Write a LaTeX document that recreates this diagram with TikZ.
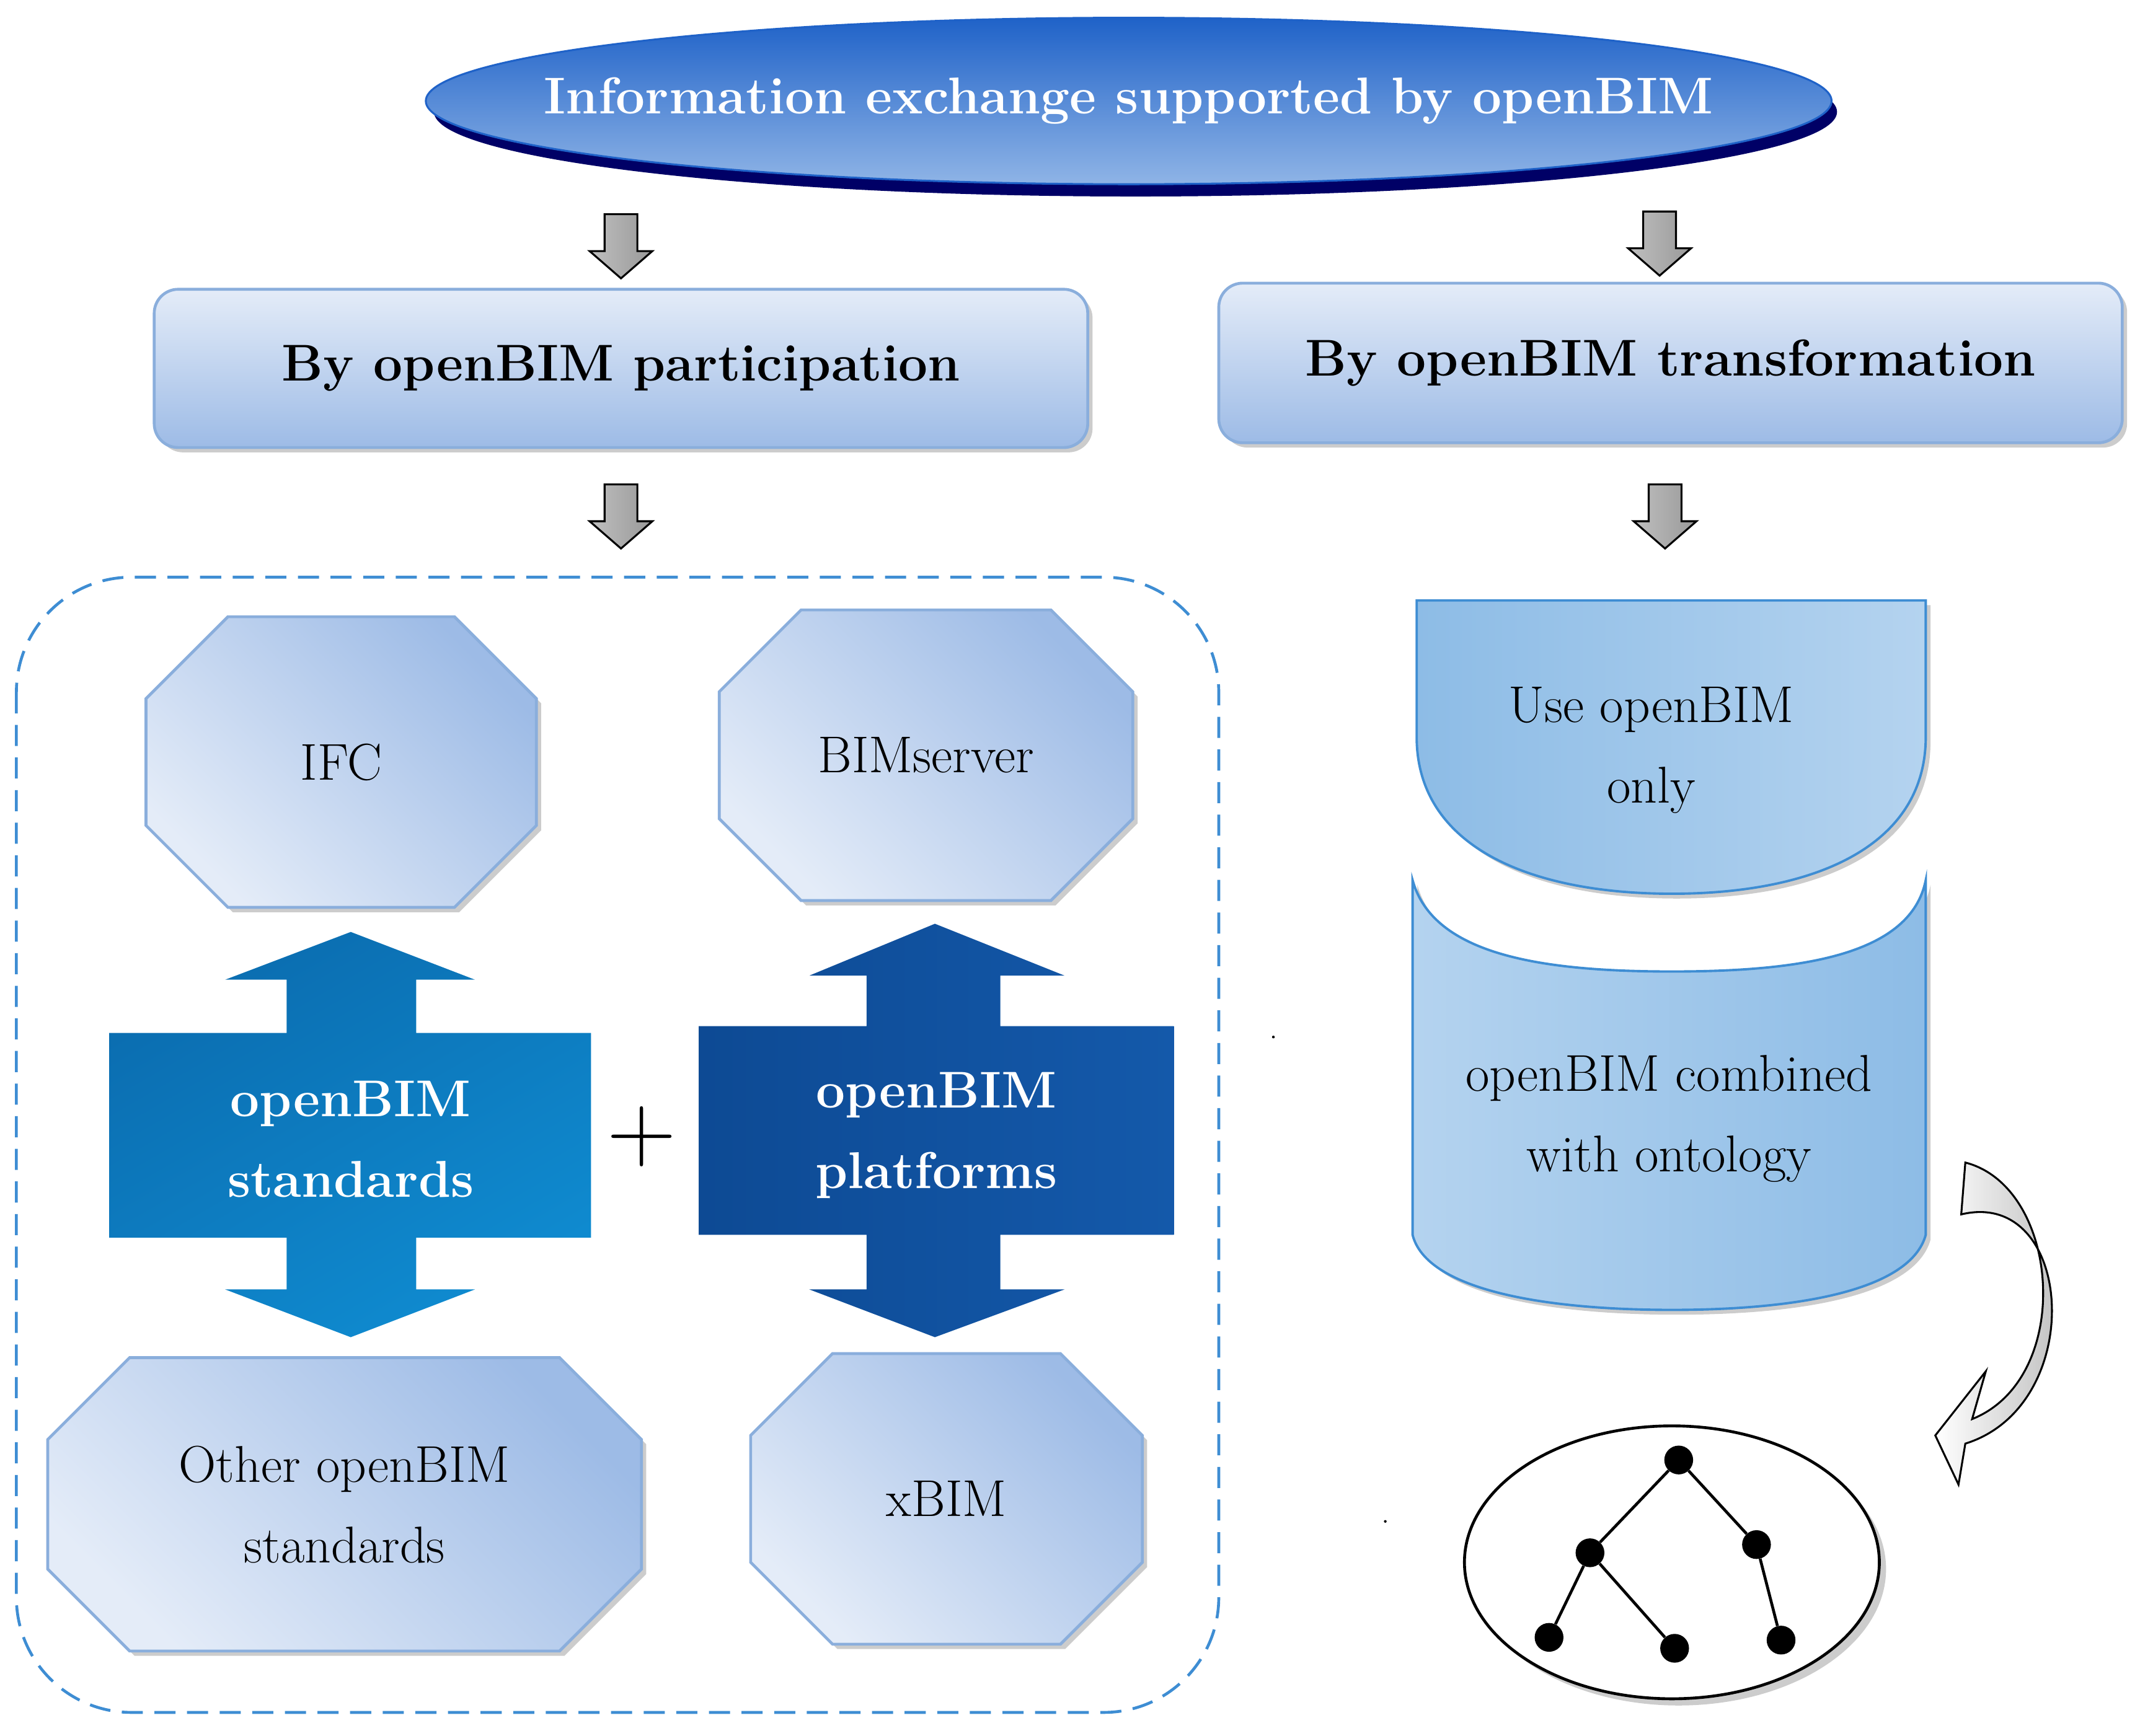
\documentclass[tikz,border=0pt]{standalone}
\usepackage{fontspec}
\usetikzlibrary{shapes.geometric,shadows,arrows.meta}
\definecolor{edge}{HTML}{8AAEDC}
\definecolor{lt}{HTML}{E4ECF8}
\definecolor{dk}{HTML}{9DBBE6}
\definecolor{sky}{HTML}{8DBCE6}
\definecolor{skyl}{HTML}{B4D3EF}
\definecolor{cyb}{HTML}{0F8BD0}
\definecolor{cybd}{HTML}{0B6DB0}
\definecolor{nav}{HTML}{1459AA}
\definecolor{navd}{HTML}{0D4A94}
\definecolor{etop}{HTML}{1F62C8}
\definecolor{ebot}{HTML}{8FB4E6}
\begin{document}
\begin{tikzpicture}[x=0.5mm,y=-0.5mm,
  shad/.style={drop shadow={shadow xshift=5pt,shadow yshift=-5pt,fill=black!40}},
  lbox/.style={draw=edge,line width=3pt,rounded corners=25pt,top color=lt,bottom color=dk,shad},
  oct/.style={draw=edge,line width=3pt,top color=dk,bottom color=lt,shading angle=-45,shad},
  garr/.style={draw=black,line width=2pt,left color=gray!50,right color=gray!80},
  big/.style={font=\bfseries\fontsize{54}{84}\selectfont,text=white,align=center},
  txt/.style={font=\fontsize{54}{84}\selectfont,align=center},
  tn/.style={circle,fill=black,inner sep=0pt,minimum size=30pt}]
\useasboundingbox (0,0) rectangle (1568,1272);
% top ellipse
\fill[blue!40!black] (832,82) ellipse (514 and 62);
\node[ellipse,minimum width=1030*0.5mm,minimum height=122*0.5mm,draw=etop,line width=2pt,top color=etop,bottom color=ebot] (top) at (827,74) {};
\node[big,font=\bfseries\fontsize{54}{70}\selectfont] at (827,74) {Information exchange supported by openBIM};
% gray arrows
\foreach \x/\y in {455/157,1216/155,455/355,1220/355}{
  \draw[garr] (\x-12,\y) -- (\x+12,\y) -- (\x+12,\y+27) -- (\x+23,\y+27) -- (\x,\y+47) -- (\x-23,\y+27) -- (\x-12,\y+27) -- cycle;}
% level 2 boxes
\node[lbox,minimum width=684*0.5mm,minimum height=116*0.5mm,font=\bfseries\fontsize{54}{70}\selectfont] (p) at (455,270) {By openBIM participation};
\node[lbox,minimum width=662*0.5mm,minimum height=117*0.5mm,font=\bfseries\fontsize{54}{70}\selectfont] (t) at (1224,266) {By openBIM transformation};
% dashed frame
\draw[draw=cyan!60!blue!80,line width=3pt,dash pattern=on 22pt off 12pt,rounded corners=120pt] (12,423) rectangle (893,1255);
% octagons
\foreach \n/\a/\b/\c/\d/\t in {ifc/107/452/393/665/IFC,bs/527/447/830/660/BIMserver,oth/35/995/470/1210/{Other openBIM\\standards},xb/550/992/837/1205/xBIM}{
  \path[oct] (\a+60,\b) -- (\c-60,\b) -- (\c,\b+60) -- (\c,\d-60) -- (\c-60,\d) -- (\a+60,\d) -- (\a,\d-60) -- (\a,\b+60) -- cycle;
  \node[txt] (\n) at ({(\a+\c)/2},{(\b+\d)/2}) {\t};}
% big double arrows
\shade[left color=cybd,right color=cyb,shading angle=30] (257,683) -- (348,718) -- (305,718) -- (305,757) -- (433,757) -- (433,907) -- (305,907) -- (305,945) -- (348,945) -- (257,980) -- (165,945) -- (210,945) -- (210,907) -- (80,907) -- (80,757) -- (210,757) -- (210,718) -- (165,718) -- cycle;
\node[big] (std) at (257,835) {openBIM\\standards};
\shade[left color=navd,right color=nav] (685,677) -- (780,715) -- (733,715) -- (733,752) -- (860,752) -- (860,905) -- (733,905) -- (733,945) -- (780,945) -- (685,980) -- (593,945) -- (635,945) -- (635,905) -- (512,905) -- (512,752) -- (635,752) -- (635,715) -- (593,715) -- cycle;
\node[big] (plat) at (686,832) {openBIM\\platforms};
\node[font=\fontsize{100}{100}\selectfont] (plus) at (470,833) {+};
% right shapes
\path[draw=cyan!60!blue!80,line width=2.5pt,left color=sky,right color=skyl,shad] (1038,440) -- (1411,440) -- (1411,540) .. controls (1411,620) and (1330,655) .. (1225,655) .. controls (1120,655) and (1038,620) .. (1038,540) -- cycle;
\node[txt] (use) at (1210,550) {Use openBIM\\only};
\path[draw=cyan!60!blue!80,line width=2.5pt,left color=skyl,right color=sky,shad] (1035,645) .. controls (1050,700) and (1130,712) .. (1225,712) .. controls (1320,712) and (1400,700) .. (1411,645) -- (1411,905) .. controls (1400,945) and (1320,960) .. (1225,960) .. controls (1130,960) and (1045,945) .. (1035,905) -- cycle;
\node[txt] (comb) at (1223,820) {openBIM combined\\with ontology};
% curved arrow
\path[draw=black,line width=2pt,left color=white,right color=gray!60] (1440,852) .. controls (1510,870) and (1520,1010) .. (1445,1040) -- (1455,1005) -- (1418,1052) -- (1435,1088) -- (1440,1058) .. controls (1530,1030) and (1520,870) .. (1437,890) -- cycle;
% tree
\node[ellipse,draw=black,line width=3pt,fill=white,minimum width=304*0.5mm,minimum height=200*0.5mm,drop shadow={shadow xshift=7pt,shadow yshift=-7pt,fill=black!40}] (ell) at (1225,1145) {};
\node[tn] (r) at (1230,1070) {};
\node[tn] (l) at (1165,1138) {};
\node[tn] (rr) at (1287,1132) {};
\node[tn] (ll) at (1135,1200) {};
\node[tn] (lr) at (1227,1208) {};
\node[tn] (rl) at (1305,1202) {};
\draw[line width=3pt] (r)--(l) (r)--(rr) (l)--(ll) (l)--(lr) (rr)--(rl);
\fill (933,760) circle (1) (1015,1115) circle (1);
\end{tikzpicture}
\end{document}
